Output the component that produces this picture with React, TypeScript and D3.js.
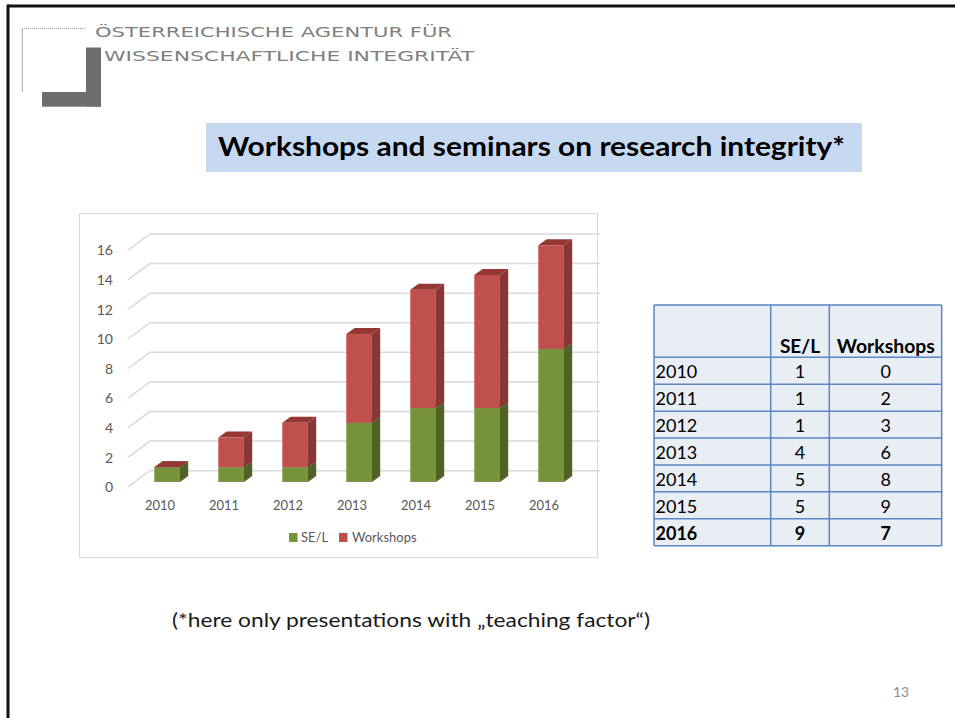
import React from "react";
import * as d3 from "d3";

const years = ["2010", "2011", "2012", "2013", "2014", "2015", "2016"];
const seL = [1, 1, 1, 4, 5, 5, 9];
const workshops = [0, 2, 3, 6, 8, 9, 7];
const yTicks = [0, 2, 4, 6, 8, 10, 12, 14, 16];
const seriesNames = ["SE/L", "Workshops"];

const FONT = "Lato, 'Open Sans', sans-serif";

const colors = {
  green: { front: "#77933c", side: "#4f6228", top: "#5f7731" },
  red: { front: "#c0504d", side: "#8a3634", top: "#953735" },
};

export default function App() {
  // chart scales
  const x = d3.scaleBand<string>().domain(years).range([135.1, 583.1]).paddingInner(0.6).paddingOuter(0.3);
  const yBack = d3.scaleLinear().domain([0, 16]).range([470.7, 234]);
  const frontOff = 11.3; // bar front face relative to back wall
  const yBar = (v: number) => yBack(v) + frontOff;
  const floorDx = 21.7, floorDy = 16; // floor depth
  const bdx = 8.3, bdy = -6; // bar depth
  const gridRight = 600;
  const bw = x.bandwidth();

  const stacked = d3.stack<any>().keys(["sel", "ws"])(
    years.map((yr, i) => ({ yr, sel: seL[i], ws: workshops[i] }))
  );
  const segColors = [colors.green, colors.red];

  // table
  const tLeft = 654, tCols = [654, 770.7, 829.3, 941.7];
  const tTop = 305, headerBottom = 357.3;
  const rowY = d3.scaleLinear().domain([0, years.length]).range([headerBottom, 545.7]);
  const tableBorder = "#5a86c4";

  return (
    <svg width={955} height={718} style={{ position: "absolute", left: 0, top: 0, background: "#fff" }}>
      <rect x={0} y={0} width={955} height={718} fill="#fff" />
      {/* slide border */}
      <line x1={8} y1={6} x2={955} y2={6} stroke="#111" strokeWidth={3} />
      <line x1={8} y1={4.5} x2={8} y2={718} stroke="#111" strokeWidth={3} />

      {/* logo */}
      <line x1={22} y1={28.5} x2={86} y2={28.5} stroke="#9a9a9a" strokeWidth={1} strokeDasharray="1 1" />
      <line x1={22.3} y1={28} x2={22.3} y2={92} stroke="#a8a8a8" strokeWidth={1} />
      <rect x={86} y={47.5} width={15} height={59} fill="#6e6e6e" />
      <rect x={42} y={92} width={59} height={14.7} fill="#6e6e6e" />
      <text x={95} y={36.7} fontFamily="'DejaVu Sans', sans-serif" fontSize={13.5} fill="#808080"
        textLength={357} lengthAdjust="spacingAndGlyphs">ÖSTERREICHISCHE AGENTUR FÜR</text>
      <text x={104} y={60.5} fontFamily="'DejaVu Sans', sans-serif" fontSize={13.5} fill="#808080"
        textLength={370} lengthAdjust="spacingAndGlyphs">WISSENSCHAFTLICHE INTEGRITÄT</text>

      {/* title */}
      <rect x={206} y={123} width={656} height={49} fill="#c6d9f1" />
      <text x={218} y={156} fontFamily={FONT} fontWeight="bold" fontSize={26} fill="#000"
        textLength={627} lengthAdjust="spacingAndGlyphs">Workshops and seminars on research integrity*</text>

      {/* chart area */}
      <rect x={79.5} y={213.5} width={518} height={344} fill="#fff" stroke="#d9d9d9" strokeWidth={1} />
      {yTicks.map((t) => {
        const yb = yBack(t);
        const xb = 128.3 + floorDx;
        return (
          <g key={t}>
            <path d={`M128.3,${yb + floorDy} L${xb},${yb} L${gridRight},${yb}`} fill="none" stroke="#d9d9d9" strokeWidth={1.5} />
            <text x={113} y={yb + 16.5} dy="0.35em" textAnchor="end" fontFamily={FONT} fontSize={14} fill="#595959">{t}</text>
          </g>
        );
      })}

      {/* bars */}
      {years.map((yr, i) => {
        const x0 = x(yr)!;
        return (
          <g key={yr}>
            {stacked.map((s, k) => {
              const [v0, v1] = s[i];
              const yt = yBar(v1), yb = yBar(v0);
              const c = segColors[k];
              return (
                <g key={k}>
                  <rect x={x0} y={yt} width={bw} height={yb - yt} fill={c.front} />
                  <path d={`M${x0 + bw},${yb} L${x0 + bw + bdx},${yb + bdy} L${x0 + bw + bdx},${yt + bdy} L${x0 + bw},${yt} Z`} fill={c.side} />
                  <path d={`M${x0},${yt} L${x0 + bdx},${yt + bdy} L${x0 + bw + bdx},${yt + bdy} L${x0 + bw},${yt} Z`} fill={c.top} />
                </g>
              );
            })}
            <text x={x0 + bw / 2 - 7} y={505} dy="0.35em" textAnchor="middle" fontFamily={FONT} fontSize={13} fill="#595959">{yr}</text>
          </g>
        );
      })}

      {/* legend */}
      <rect x={289} y={533} width={8.5} height={9} fill={colors.green.front} />
      <text x={301} y={537.5} dy="0.35em" fontFamily={FONT} fontSize={13} fill="#595959">{seriesNames[0]}</text>
      <rect x={339} y={533} width={8.5} height={9} fill={colors.red.front} />
      <text x={352} y={537.5} dy="0.35em" fontFamily={FONT} fontSize={13} fill="#595959">{seriesNames[1]}</text>

      {/* table */}
      <rect x={tLeft} y={tTop} width={tCols[3] - tLeft} height={545.7 - tTop} fill="#e9edf4" />
      <text x={800} y={353} textAnchor="middle" fontFamily={FONT} fontWeight="bold" fontSize={19} fill="#000">{seriesNames[0]}</text>
      <text x={885.8} y={353} textAnchor="middle" fontFamily={FONT} fontWeight="bold" fontSize={19} fill="#000"
        textLength={98} lengthAdjust="spacingAndGlyphs">{seriesNames[1]}</text>
      {years.map((yr, i) => {
        const bold = i === years.length - 1;
        const base = rowY(i + 1) - 6;
        return (
          <g key={yr} fontFamily={FONT} fontSize={18} fontWeight={bold ? "bold" : "normal"} fill="#000">
            <text x={655.5} y={base}>{yr}</text>
            <text x={800} y={base} textAnchor="middle">{seL[i]}</text>
            <text x={885.8} y={base} textAnchor="middle">{workshops[i]}</text>
          </g>
        );
      })}
      {tCols.map((cx, i) => (
        <line key={"c" + i} x1={cx} y1={tTop} x2={cx} y2={545.7} stroke={tableBorder} strokeWidth={1.5} />
      ))}
      {[tTop, ...d3.range(years.length + 1).map((r) => rowY(r))].map((ry, i) => (
        <line key={"r" + i} x1={tLeft} y1={ry} x2={tCols[3]} y2={ry} stroke={tableBorder} strokeWidth={1.5} />
      ))}

      {/* footnote */}
      <text x={172} y={627} fontFamily={FONT} fontSize={19} fill="#1a1a1a" textLength={478} lengthAdjust="spacingAndGlyphs">(*here only presentations with „teaching factor“)</text>

      {/* page number */}
      <text x={901} y={697} textAnchor="middle" fontFamily={FONT} fontSize={14} fill="#8c8c8c">13</text>
    </svg>
  );
}
